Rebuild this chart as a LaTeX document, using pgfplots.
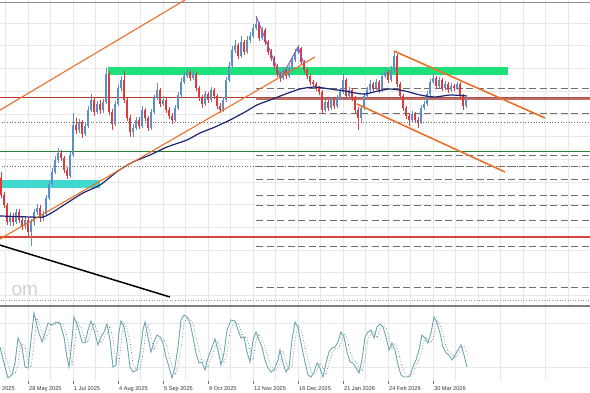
\documentclass[border=0pt]{standalone}
\usepackage{pgfplots}
\usepackage{pgfplotstable}
\pgfplotsset{compat=1.18}
\usepackage{fontspec}
\setmainfont{Liberation Sans}
\definecolor{upc}{HTML}{5A8FC7}
\definecolor{dnc}{HTML}{DC3B3B}
\definecolor{org}{HTML}{E8702A}
\definecolor{grn}{HTML}{1FE07A}
\definecolor{cyn}{HTML}{3FD9CF}
\definecolor{navyc}{HTML}{1B2470}
\definecolor{dgreen}{HTML}{2E7D32}
\definecolor{rline}{HTML}{D8443C}
\definecolor{brn}{HTML}{B0564E}
\definecolor{purp}{HTML}{8E5BBF}
\definecolor{stoch}{HTML}{6BA7B2}
\definecolor{dashc}{HTML}{707070}

% candles in chart pixel units (y grows downward): x open close top bottom
\pgfplotstableread{
x o c hi lo
1 178 195 172 198
4 195 205 192 208
7 205 222 203 225
10 222 216 212 226
13 216 222 213 226
16 222 212 209 224
19 212 220 209 223
22 220 226 217 230
25 226 220 216 229
28 220 232 218 237
31 232 222 219 246
34 222 212 209 226
37 212 208 204 215
40 208 218 205 222
43 218 214 211 221
46 214 198 195 216
49 198 184 181 200
52 184 172 168 186
55 172 160 156 174
58 160 153 148 163
61 153 158 150 161
64 158 170 156 173
67 170 176 167 179
70 176 155 152 178
73 155 125 113 157
76 125 130 118 134
79 130 122 119 133
82 122 134 120 138
85 134 126 122 136
88 126 110 106 128
91 110 100 94 112
94 100 112 98 116
97 112 104 101 114
100 104 110 100 114
103 110 102 99 113
106 102 74 68 104
109 74 112 71 115
112 112 124 109 130
115 124 104 101 126
118 104 88 85 106
121 88 80 76 91
124 80 100 71 103
127 100 118 98 121
130 118 132 115 137
133 132 128 124 137
136 128 120 117 130
139 120 126 117 129
142 126 110 106 128
145 110 118 108 121
148 118 128 116 131
151 128 112 109 130
154 112 98 95 114
157 98 90 83 100
160 90 104 88 107
163 104 100 96 106
166 100 110 98 113
169 110 116 107 119
172 116 120 113 124
175 120 108 105 122
178 108 95 92 110
181 95 82 78 97
184 82 76 72 84
187 76 72 68 78
190 72 78 70 81
193 78 74 71 80
196 74 88 72 91
199 88 98 86 101
202 98 104 95 108
205 104 94 91 106
208 94 100 92 103
211 100 90 87 102
214 90 96 88 99
217 96 106 94 109
220 106 110 103 113
223 110 100 97 112
226 100 80 77 102
229 80 66 62 82
232 66 50 46 68
235 50 45 40 53
238 45 56 43 59
241 56 42 36 58
244 42 52 40 55
247 52 40 36 54
250 40 36 32 43
253 36 28 24 38
256 28 24 16 30
259 24 38 22 41
262 38 30 27 40
265 30 42 28 45
268 42 52 40 55
271 52 58 49 61
274 58 66 56 69
277 66 74 64 77
280 74 78 72 82
283 78 70 67 80
286 70 76 68 79
289 76 68 65 78
292 68 60 57 70
295 60 52 49 62
298 52 48 45 54
301 48 62 47 65
304 62 70 60 73
307 70 76 68 79
310 76 82 74 85
313 82 84 80 87
316 84 88 82 91
319 88 92 86 95
322 92 110 90 114
325 110 102 99 112
328 102 108 100 111
331 108 100 97 110
334 100 106 98 109
337 106 98 95 108
340 98 92 88 100
343 92 80 73 94
346 80 96 78 99
349 96 90 87 98
352 90 98 88 101
355 98 110 96 113
358 110 118 107 130
361 118 108 105 122
364 108 96 93 110
367 96 90 87 98
370 90 84 80 92
373 84 88 82 91
376 88 82 79 90
379 82 90 80 93
382 90 76 73 92
385 76 72 68 78
388 72 80 70 83
391 80 70 66 82
394 70 56 51 72
397 56 84 54 87
400 84 96 82 99
403 96 108 94 111
406 108 116 106 119
409 116 120 113 126
412 120 114 111 123
415 114 120 112 123
418 120 122 117 128
421 122 108 105 124
424 108 104 101 110
427 104 94 91 106
430 94 82 79 96
433 82 78 73 84
436 78 86 76 89
439 86 80 77 88
442 80 88 78 91
445 88 84 81 90
448 84 90 82 93
451 90 86 83 92
454 86 88 84 91
457 88 84 82 90
460 84 96 82 99
463 96 106 94 110
466 106 100 97 108
}\candles

\pgfplotsset{
  candle/.style 2 args={draw=none, mark=none, forget plot,
    y filter/.expression={#1},
    error bars/.cd, y dir=plus, y explicit, error mark=none,
    error bar style={draw=#2}},
}

\begin{document}
\begin{tikzpicture}
\useasboundingbox (0pt,0pt) rectangle (590pt,393pt);
% ---------------- main price panel ----------------
\begin{axis}[
  at={(-20pt,86pt)}, anchor=south west, scale only axis,
  width=610pt, height=307pt,
  xmin=-20, xmax=590, ymin=0, ymax=307, y dir=reverse,
  axis line style={draw=none},
  xtick={5.5,28,...,590}, ytick={23,45.7,...,300},
  xticklabels={}, yticklabels={}, major tick length=0pt,
  tick style={draw=none},
  grid=major, grid style={color=black!9, line width=0.5pt},
]
% bands
\addplot[fill=grn, draw=none] coordinates {(108,67.5)(508,67.5)(508,75.5)(108,75.5)} -- cycle;
\addplot[fill=cyn, draw=none] coordinates {(-20,180.5)(100,180.5)(100,188.5)(-20,188.5)} -- cycle;
% horizontal levels
\addplot[rline!85!black, line width=0.9pt] coordinates {(-20,97.5)(590,97.5)};
\addplot[brn, line width=2.4pt, opacity=0.85] coordinates {(256,98.5)(590,98.5)};
\addplot[black!60, dotted, line width=0.7pt] coordinates {(-20,122)(590,122)};
\addplot[black!60, dotted, line width=0.7pt] coordinates {(-20,166)(590,166)};
\addplot[black!40, dotted, line width=0.6pt] coordinates {(-20,300.5)(590,300.5)};
\addplot[dgreen, line width=1.2pt] coordinates {(-20,151.5)(590,151.5)};
\addplot[rline, line width=2.2pt] coordinates {(-20,237)(590,237)};
\foreach \yy in {88,113,155,166,179,195,205,220,246,287}{
  \edef\tmp{\noexpand\addplot[dashc, line width=0.9pt, dash pattern=on 7pt off 3.5pt] coordinates {(256,\yy)(590,\yy)};}
  \tmp
}
% top border and separator
\addplot[black!45, line width=1pt] coordinates {(-20,2.5)(590,2.5)};
\addplot[black!50, line width=2pt] coordinates {(-20,306)(590,306)};
% candles: wicks
\addplot[candle={\thisrow{c}<\thisrow{o} ? y : nan}{upc}, error bar style={line width=0.6pt}]
  table[x=x, y=hi, y error plus expr={\thisrow{lo}-\thisrow{hi}}]{\candles};
\addplot[candle={\thisrow{c}<\thisrow{o} ? nan : y}{dnc}, error bar style={line width=0.6pt}]
  table[x=x, y=hi, y error plus expr={\thisrow{lo}-\thisrow{hi}}]{\candles};
% candles: bodies
\addplot[candle={\thisrow{c}<\thisrow{o} ? y : nan}{upc}, error bar style={line width=1.7pt}]
  table[x=x, y=c, y error plus expr={\thisrow{o}-\thisrow{c}}]{\candles};
\addplot[candle={\thisrow{c}<\thisrow{o} ? nan : y}{dnc}, error bar style={line width=1.7pt}]
  table[x=x, y=o, y error plus expr={\thisrow{c}-\thisrow{o}}]{\candles};
% moving average
\addplot[navyc, line width=1.2pt, smooth, tension=0.4] coordinates {
(-20,216)(0,216)(30,217)(43,217)(53,212)(67,203)(83,193)(100,185)(118,171)(133,162)(150,155)
(167,147)(187,140)(200,133)(215,127)(230,120)(245,112)(257,105)(270,100)(283,95)(300,89)
(315,87)(330,89)(345,91)(355,93)(365,94)(378,91)(390,89)(405,91)(420,95)(435,97)(450,95)(467,96)};
% trend lines
\addplot[org, line width=1.1pt] coordinates {(-20,122)(185,0)};
\addplot[org, line width=1.1pt] coordinates {(-20,250.5)(315,57)};
\addplot[org, line width=1.6pt] coordinates {(394,51)(545,118)};
\addplot[org, line width=1.6pt] coordinates {(357,104)(505,172)};
\addplot[black, line width=1.5pt] coordinates {(-20,239)(170,297)};
\addplot[purp, line width=1pt] coordinates {(256,16)(281,78)(298,47)(304,64)};
\node[font=\fontsize{19}{19}\selectfont, text=black!18, anchor=west] at (axis cs:8,290) {om};
\end{axis}
% ---------------- stochastic panel ----------------
\begin{axis}[
  at={(-20pt,12pt)}, anchor=south west, scale only axis,
  width=610pt, height=74pt,
  xmin=-20, xmax=590, ymin=307, ymax=381, y dir=reverse,
  axis line style={draw=none},
  xtick={-17,28,...,433},
  xticklabels={24 Apr 2025, 28 May 2025, 1 Jul 2025, 4 Aug 2025, 5 Sep 2025, 9 Oct 2025, 12 Nov 2025, 16 Dec 2025, 21 Jan 2026, 24 Feb 2026, 30 Mar 2026},
  minor xtick={5.5,50.5,...,590},
  ytick={323,367}, yticklabels={},
  xtick pos=bottom, xtick align=outside, major tick length=3pt, minor tick length=0pt,
  x tick style={draw=black!55, line width=0.4pt}, y tick style={draw=none},
  grid=both, grid style={color=black!9, line width=0.5pt},
  minor grid style={color=black!9, line width=0.5pt},
  xticklabel style={anchor=north west, font=\fontsize{5.6}{6}\selectfont, text=black!80, inner sep=0pt, xshift=1pt, yshift=-2.5pt},
]
\addplot[black!55, dotted, line width=0.7pt] coordinates {
(3,348)(8,364)(11,374)(15,374)(18,365)(21,343)(25,346)(28,363)(31,367)(34,343)(37,318)(41,329)(45,340)(48,334)(51,325)(55,325)(59,323)(63,324)(67,336)(70,354)(72,364)(74,352)(77,321)(81,327)(85,340)(88,342)(91,331)(94,323)(97,330)(101,343)(104,338)(107,333)(110,326)(113,339)(116,364)(119,364)(122,334)(124,324)(127,328)(130,341)(133,364)(136,370)(140,369)(143,354)(146,332)(148,325)(151,337)(154,350)(157,343)(160,337)(163,338)(166,343)(169,355)(172,365)(175,375)(178,366)(181,348)(184,323)(187,318)(190,319)(193,324)(196,337)(199,351)(202,361)(205,361)(208,368)(211,358)(214,351)(218,341)(221,350)(224,363)(227,353)(230,332)(234,323)(238,323)(241,331)(244,338)(247,337)(250,350)(253,360)(256,341)(259,334)(262,340)(265,347)(268,358)(271,366)(274,370)(277,369)(281,360)(283,351)(286,362)(289,370)(292,366)(295,341)(298,325)(301,330)(305,347)(308,360)(311,372)(314,375)(317,371)(320,363)(323,367)(326,375)(329,363)(332,353)(335,349)(338,348)(341,343)(344,334)(347,338)(350,351)(353,360)(356,362)(359,367)(362,371)(365,360)(368,339)(371,334)(374,332)(377,338)(380,329)(383,326)(386,328)(389,337)(392,349)(395,344)(398,350)(401,363)(404,372)(407,375)(410,375)(413,374)(416,366)(419,360)(422,350)(425,337)(428,339)(431,343)(434,335)(437,320)(440,325)(443,334)(446,346)(449,352)(452,354)(455,358)(458,354)(461,350)(464,346)(468,356)};
\addplot[stoch, line width=0.9pt] coordinates {
(-20,330)(0,347)(5,367)(8,378)(12,375)(15,363)(18,338)(22,347)(25,367)(28,368)(31,340)(34,313)(38,330)(42,342)(45,333)(48,323)(52,325)(56,322)(60,323)(64,337)(67,357)(69,367)(71,350)(74,317)(78,327)(82,342)(85,343)(88,330)(91,321)(94,330)(98,345)(101,337)(104,332)(107,324)(110,340)(113,367)(116,365)(119,332)(121,321)(124,327)(127,343)(130,367)(133,372)(137,370)(140,353)(143,330)(145,322)(148,337)(151,352)(154,342)(157,335)(160,337)(163,343)(166,357)(169,367)(172,378)(175,367)(178,347)(181,320)(184,315)(187,317)(190,323)(193,337)(196,353)(199,363)(202,362)(205,370)(208,358)(211,350)(215,339)(218,350)(221,365)(224,353)(227,330)(231,320)(235,321)(238,330)(241,338)(244,337)(247,352)(250,362)(253,340)(256,332)(259,340)(262,347)(265,360)(268,368)(271,372)(274,370)(278,360)(280,350)(283,363)(286,372)(289,367)(292,340)(295,322)(298,328)(302,348)(305,362)(308,375)(311,377)(314,372)(317,363)(320,368)(323,377)(326,363)(329,352)(332,348)(335,347)(338,342)(341,332)(344,337)(347,352)(350,362)(353,363)(356,368)(359,373)(362,360)(365,337)(368,332)(371,330)(374,338)(377,327)(380,324)(383,327)(386,337)(389,350)(392,343)(395,350)(398,365)(401,375)(404,377)(407,377)(410,376)(413,367)(416,360)(419,350)(422,335)(425,338)(428,343)(431,333)(434,317)(437,323)(440,333)(443,347)(446,353)(449,355)(452,360)(455,355)(458,350)(461,345)(464,355)(467,367)};
\end{axis}
\end{tikzpicture}
\end{document}
